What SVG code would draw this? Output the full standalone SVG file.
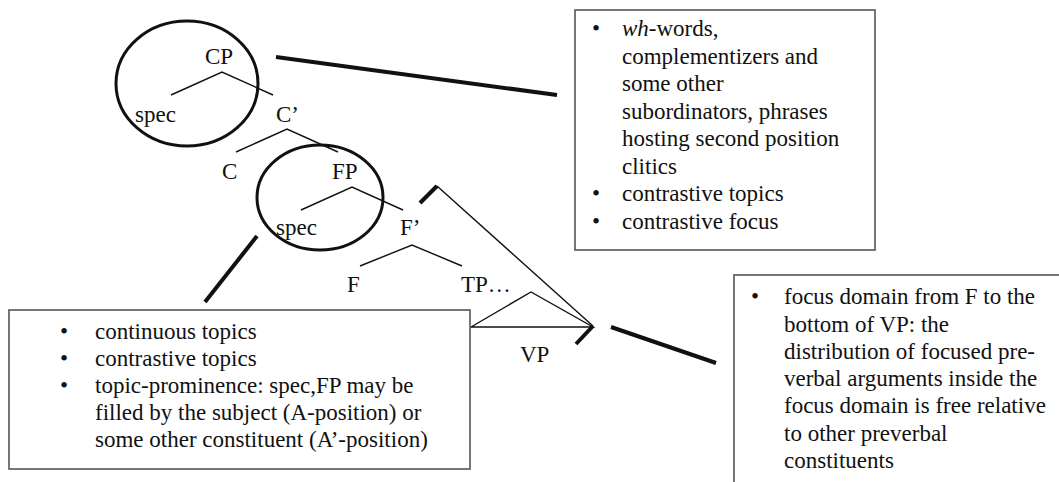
<svg xmlns="http://www.w3.org/2000/svg" width="1059" height="482" viewBox="0 0 1059 482" font-family="'Liberation Serif', 'DejaVu Serif', serif">
<style>
text{font-family:'Liberation Serif', 'DejaVu Serif', serif;font-size:23px;fill:#111}
.box{fill:#fff;stroke:#555;stroke-width:1.6}
.ring{fill:none;stroke:#111;stroke-width:3}
.thin{fill:none;stroke:#111;stroke-width:1.4}
.thick{fill:none;stroke:#111;stroke-width:4}
</style>
<rect width="1059" height="482" fill="#fff"/>
<g id="tree">
<g id="cp"><text x="205" y="64">CP</text><polyline class="thin" points="171,95 222,72 273,95"/></g>
<g id="spec1"><text x="135" y="122">spec</text></g>
<g id="cbar"><text x="276" y="122">C’</text><polyline class="thin" points="236,152 287,129 338,152"/></g>
<g id="c"><text x="222" y="179">C</text></g>
<g id="fp"><text x="332" y="179">FP</text><polyline class="thin" points="301,210 352,187 403,210"/></g>
<g id="spec2"><text x="276" y="235">spec</text></g>
<g id="fbar"><text x="400" y="235">F’</text><polyline class="thin" points="360,266 412,245 462,266"/></g>
<g id="f"><text x="347" y="292">F</text></g>
<g id="tp"><text x="461" y="292">TP…</text></g>
<g id="vp"><polygon class="thin" points="471,327 531,292 593,327"/><text x="520" y="362">VP</text></g>
</g>
<g id="ring-cp"><ellipse class="ring" cx="187" cy="83.5" rx="71" ry="62.5"/></g>
<g id="ring-fp"><ellipse class="ring" cx="320" cy="197.5" rx="63" ry="52.5"/></g>
<g id="connectors">
<line class="thick" x1="276" y1="57" x2="557" y2="95"/>
<line class="thick" x1="205" y1="302" x2="257" y2="236"/>
<polyline class="thick" points="420,203 437,186"/>
<line class="thin" x1="437" y1="186" x2="593" y2="326"/>
<polyline class="thick" points="593,326 576,344"/>
<line class="thick" x1="611" y1="327" x2="716" y2="363"/>
</g>
<g id="box-top">
<rect class="box" x="575" y="10" width="300" height="240"/>
<text x="592" y="36">•</text>
<text x="622" y="36"><tspan font-style="italic">wh</tspan>-words,</text>
<text x="622" y="63.5">complementizers and</text>
<text x="622" y="91">some other</text>
<text x="622" y="118.5">subordinators, phrases</text>
<text x="622" y="146">hosting second position</text>
<text x="622" y="173.5">clitics</text>
<text x="592" y="201">•</text>
<text x="622" y="201">contrastive topics</text>
<text x="592" y="228.5">•</text>
<text x="622" y="228.5">contrastive focus</text>
</g>
<g id="box-left">
<rect class="box" x="9" y="310" width="461" height="159"/>
<text x="60" y="339">•</text>
<text x="95" y="339">continuous topics</text>
<text x="60" y="366">•</text>
<text x="95" y="366">contrastive topics</text>
<text x="60" y="393">•</text>
<text x="95" y="393">topic-prominence: spec,FP may be</text>
<text x="95" y="420">filled by the subject (A-position) or</text>
<text x="95" y="447">some other constituent (A’-position)</text>
</g>
<g id="box-right">
<rect class="box" x="734" y="275" width="340" height="220"/>
<text x="751" y="304">•</text>
<text x="784" y="304">focus domain from F to the</text>
<text x="784" y="331.5">bottom of VP: the</text>
<text x="784" y="359">distribution of focused pre-</text>
<text x="784" y="386">verbal arguments inside the</text>
<text x="784" y="413">focus domain is free relative</text>
<text x="784" y="441">to other preverbal</text>
<text x="784" y="468">constituents</text>
</g>
</svg>
